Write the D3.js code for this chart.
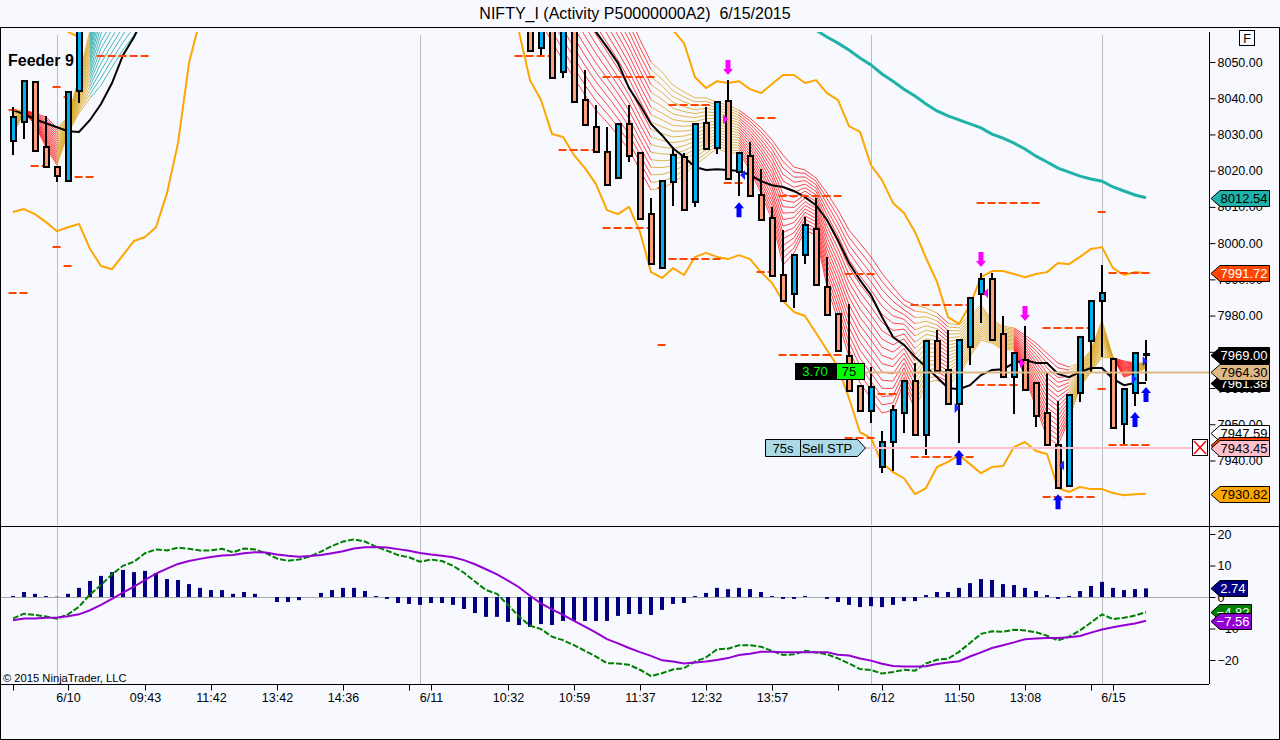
<!DOCTYPE html>
<html lang="en">
<head>
  <meta charset="UTF-8">
  <title>NIFTY_I</title>
  <script src="https://d3js.org/d3.v7.min.js"></script>
  <style>
    body { margin: 0; background: #f8f9ff; }
    svg { display: block; }
    text { font-family: "Liberation Sans", Arial, sans-serif; }
  </style>
</head>
<body>
<svg id="chart" width="1280" height="740"></svg>
<script>
// candles, one entry per visible bar (bars 7-46 traded above the top of the chart)
var candleBars = [0,1,2,3,4,5,6,47,48,49,50,51,52,53,54,55,56,57,58,59,60,61,62,63,64,65,66,67,68,69,70,71,72,73,74,75,76,77,78,79,80,81,82,83,84,85,86,87,88,89,90,91,92,93,94,95,96,97,98,99,100,101,102,103];
var opens = [8028.2,8033.4,8044.5,8026.5,8021,8017.1,8042,8070,8053.8,8068,8047.2,8066,8039.5,8032,8025.1,8018,8032.9,8024.9,8008,7993.1,8016.9,8023.8,8011.3,8033.1,8026.2,8039.2,8019.6,8024,8013.3,8006.9,7991.2,7985.9,7996.7,8003.9,7987.9,7980.4,7968.8,7960.5,7953.6,7938.2,7945.1,7953.1,7961.9,7947,7973,7965,7955.6,7971.3,7985.9,7990.1,7974.9,7963,7967.7,7961.4,7953.1,7944.3,7932.9,7958.6,7973,7984,7968,7950.1,7958.6,7969];
var highs = [8037.6,8044.7,8044.7,8035.1,8021,8041.7,8070,8070,8068,8068,8066,8066,8047.8,8038.1,8032,8032.9,8038.1,8024.9,8012.4,8017.1,8026.5,8024.9,8032.9,8037.6,8038.9,8045,8024.9,8027.9,8020.4,8010,8003.6,7996.7,8007.2,8012.4,7996.1,7980.4,7983.2,7960.5,7965.8,7948.1,7955.3,7961.9,7966.9,7973,7976,7976,7973.2,7984.8,7991.7,7991.7,7979.9,7969.7,7977.1,7961.4,7964.1,7956.4,7958.1,7974.1,7984,7993.9,7968,7959.7,7969.7,7973.2];
var lows = [8024.3,8028.7,8025.4,8021,8016.9,8017.1,8038.7,8053,8051.9,8045.6,8045.6,8038.9,8032.6,8025.1,8016,8018,8022.4,8006.6,7994.2,7993.1,8010.2,8009.1,8010,8026,8024.6,8017.7,8013,8013,8006.4,7990.9,7984,7982.1,7994.2,7988.4,7980.1,7970.2,7959.2,7953.6,7950.3,7936.5,7937.1,7947.6,7947,7941.5,7964.7,7955.6,7944.8,7966.3,7977.9,7973.2,7963,7952.8,7959.4,7949.2,7944.3,7932.4,7932.9,7956.1,7964.4,7968.5,7949,7944.5,7955,7961.9];
var closes = [8034.8,8044.7,8025.4,8021,8018.5,8041.7,8070,8053,8068,8045.6,8066,8038.9,8032.6,8025.1,8016,8032.9,8024,8006.6,7994.2,8017.1,8024.3,8009.1,8032.9,8026,8038.9,8017.7,8024.9,8013,8006.4,7990.9,7984,7996.7,8005,7988.4,7980.1,7970.2,7959.2,7953.6,7960.3,7945.1,7953.9,7961.9,7947,7973,7964.7,7955.6,7973.2,7984.8,7990.1,7973.2,7963,7969.7,7959.4,7952.3,7944.3,7932.4,7958.1,7974.1,7984,7986.2,7949,7959.7,7969.7,7969.4];

// orange envelope, two stretches each [first bar, values]
var bandLowLeft = [8008.6,8009.4,8008,8005.8,8003.3,8004.4,8005.3,7998.4,7993.7,7992.8,7996.7,8000.6,8001.7,8004.4,8013.8,8027.6,8049.7,8061.6];
var bandLowRight = [8058.3,8045,8039.5,8030.1,8029.3,8024.3,8020.7,8016.3,8009.1,8008,8010,8003.1,7992,7990.4,7993.1,7991.2,7996.2,7997.3,7996.2,7995.6,7996.7,7995.6,7992,7989,7984,7981,7979.9,7975.2,7970.5,7965.8,7957.2,7947.8,7946.2,7939.3,7936.8,7935.1,7930.7,7932.4,7938.2,7939.6,7941.5,7939,7936.5,7938.2,7938.5,7943.7,7945.1,7942.6,7941.8,7932.4,7931.3,7932.7,7932.1,7932.1,7931,7930.4,7930.7,7930.82];
var bandHighLeft = [8061.6,8058.3,8056.9,8061.6];
var bandHighRight = [8058.8,8055.2,8045.8,8042.8,8044.7,8044.2,8044.7,8042.5,8041.4,8043.9,8046.4,8046.4,8044.2,8045,8041.4,8039.5,8032.3,8030.7,8021.5,8017.4,8011.1,8008.3,8003.1,7995.9,7989.3,7979.6,7977.7,7982.9,7990.6,7992.3,7992.3,7991.5,7990.6,7991.5,7992,7994.5,7994.2,7996.2,7998.4,7998.9,7993.1,7991.2,7992,7991.72];

var blackLeft = [8036.7,8035.6,8034.2,8033.1,8032,8030.9,8030.7,8034,8038.4,8044.2,8051.9,8056.9,8063];
var blackRight = [8064.3,8058.3,8054.1,8049.7,8042.8,8038.1,8032.9,8029.8,8026.2,8023.8,8021,8020.2,8020.4,8020.2,8019.9,8018.8,8017.1,8016,8015.5,8014.4,8012.7,8010.5,8006.4,8000.8,7994.5,7989.8,7985.7,7979.6,7974.1,7971.9,7968.6,7965.8,7963,7960,7959.7,7960.8,7963.6,7965,7965.2,7966.9,7967.7,7966.9,7966.9,7963.9,7963,7964.4,7965.5,7965.5,7962.5,7960.8,7961.4,7961.38];
var tealRight = [8058.8,8056.9,8055.2,8053.3,8051.1,8049.2,8046.7,8044.7,8042.5,8040.6,8038.4,8036.5,8035.1,8034,8032.9,8031.8,8030.1,8029,8027.6,8026,8024,8022.4,8020.7,8019.6,8018.5,8017.7,8017.1,8015.5,8014.4,8013.3,8012.54];

// outer edges of the moving average ribbon
var ribbonTopLeft = [8036.7,8036.7,8035.9,8034.8,8031.8,8034.8,8045.8,8058.8,8078.1,8083.7,8089.2,8094.7,8100.2];
var ribbonBotLeft = [8029.8,8036.2,8032.6,8026.5,8021.5,8030.4,8035.9,8040,8043.6,8048.6,8053.3,8057.4,8063];
var ribbonTopRight = [8117.3,8111.3,8105.2,8099.1,8093,8087,8080.9,8074.8,8068.8,8062.7,8056.1,8050,8047.2,8043.6,8041.7,8040.1,8040.1,8038.9,8038.1,8036.7,8034.5,8031.8,8028.5,8024.3,8021,8020.2,8018,8013.8,8009.1,8003.6,8000,7996.2,7991.7,7987.9,7984.3,7982.9,7982.1,7980.7,7977.9,7977.4,7980.1,7982.9,7978.8,7977.1,7976.6,7974.6,7972.4,7969.6,7966.9,7965.8,7966.9,7970.5,7978.8,7968.3,7967.5,7966.9,7966.9];
var ribbonBotRight = [8065.7,8061,8055.5,8050.5,8045.6,8040.9,8036.7,8033.4,8029.8,8025.7,8020.2,8014.7,8015.2,8016.6,8018.8,8021.6,8023.8,8026.2,8024.9,8024.9,8020.2,8013.8,8006.4,7994,7997.3,8003.6,8002.2,7987.9,7978.8,7968.6,7961.4,7957.2,7953.1,7953.9,7961.6,7953.9,7961.4,7962.2,7960.8,7963.6,7968.6,7973.2,7972.4,7970.5,7970.5,7963,7954.7,7946.5,7944.3,7951.2,7960.3,7964.4,7968.5,7968.3,7963,7964.1,7965.5];
var ribbonFromBars = [0,1,4,7,47,58,66,82,84,85,91,96,100,102];
var ribbonToBars = [1,4,7,12,58,66,82,84,85,91,96,100,102,103];
var ribbonStates = ['rise','fall','rise','strong','fall','rise','fall','rise','fall','rise','fall','rise','fall','rise'];

// dashed pivot levels
var pivotFrom = [-0.4,-0.4,3.6,4.6,1.6,5.6,7.6,3.6,4.6,45.6,53.6,59.6,49.6,53.6,59.6,58.6,58.6,67.6,64.6,69.6,67.6,75.6,81.6,69.6,78.6,75.6,81.6,87.6,87.6,93.6,93.6,99.6,99.6,98.6,98.6];
var pivotTo = [1.45,0.45,4.45,5.4,3.3,7.45,12.45,4.45,5.45,49.45,58.55,63.55,53.4,58.4,64.45,59.45,59.45,69.45,66.55,75.45,69.45,78.45,87.45,75.45,80.65,78.45,87.45,91.4,93.45,98.45,98.45,103.45,103.45,99.45,99.45];
var pivotPrice = [7986.2,8036.7,8043.1,8040.3,8021.3,8018.2,8051.6,7998.9,7993.7,8051.6,8045.8,8038.1,8025.7,8004.2,7995.6,7971.9,8015.2,8034.5,8016.6,8013,7992,7991.5,7982.9,7969.1,7958.3,7946.2,7941,7960.8,8011.1,7976.6,7929.9,7991.7,7944.3,7959.7,8008.6];

// signal arrows, tip on the price
var downBars = [65,88,92];
var downPrices = [8046.4,7993.4,7978.5];
var upBars = [66,86,95,102,103];
var upPrices = [8011.3,7942.9,7930.7,7953.4,7960.3];
var flagBars = [64.55,88.64,91.55,66.55,85.6,95.55,101.7,102.7];
var flagPrices = [8034.2,7986.2,7966.9,8018.8,7954.5,7938.7,7962.5,7967.4];
var flagDirs = [1,-1,1,-1,1,-1,1,1];
var flagKinds = ['short','short','short','long','long','long','long','long'];

// MACD panel, every bar
var macdHist = [0.3,1.6,1,0.3,0.1,1,2.9,5.1,6.7,7.9,8.6,7.9,8.3,7.6,5.7,5.4,4.1,2.9,2.2,2.2,1,1.6,1,0,-1.6,-1.6,-1,0,1.3,2.2,2.9,2.9,1.9,0.3,-0.6,-1.9,-2.2,-2.5,-1.9,-1.9,-2.5,-3.8,-5.1,-6.3,-6.3,-7.9,-8.9,-9.5,-8.6,-8.9,-7.6,-7.6,-7.6,-7.6,-7.6,-6,-5.4,-5.4,-5.7,-4.1,-2.2,-1.9,0.3,1.3,2.9,2.5,2.9,2.5,1.6,0.3,-0.6,-0.6,0.3,0,-0.6,-1.6,-2.5,-3.2,-2.9,-3.2,-2.5,-1.3,-1.3,0.6,1.6,1.6,2.9,4.4,5.7,5.4,4.1,3.8,2.9,1.9,0.6,-0.6,0.3,1.9,3.5,4.8,2.9,2.2,2.5,2.74];
var macdAvg = [-7.4,-6.8,-6.8,-6.6,-6.5,-6.1,-5.5,-4.2,-2.5,-0.6,1.4,3.3,5.4,7.4,9,10.5,11.4,12.1,12.7,13.2,13.3,13.9,14.2,14.1,13.5,13.1,12.8,13,13.3,13.9,14.5,15.4,15.8,15.9,15.7,15.2,14.7,14,13.5,13.1,12.6,11.7,10.4,8.8,7.2,5.2,3.1,0.4,-2,-3.9,-5.7,-7.6,-9.4,-11.3,-13.4,-14.7,-16.2,-17.5,-18.7,-20.1,-20.5,-21.1,-20.8,-20.5,-20,-19.4,-18.4,-18,-17.4,-17.4,-17.5,-17.5,-17.5,-17.5,-17.5,-18.3,-18.6,-19.5,-20.2,-21.2,-21.9,-22.1,-22.1,-22,-21.3,-20.8,-20.4,-18.9,-17.6,-16.2,-15.3,-14.4,-13.4,-13.2,-13,-13,-12.8,-12.4,-11.3,-10.3,-9.6,-9,-8.4,-7.56];
var macdLine = [-6.8,-5.3,-5.7,-6.2,-6.9,-5.5,-3.1,0.8,3.8,7.2,9.9,11.2,13.9,15.1,14.8,15.7,15.3,14.8,14.8,15.3,14.2,15.4,15.1,13.9,12.2,11.5,11.9,12.9,14.4,16.2,17.6,18.3,17.6,16,14.7,13.3,12.6,11.2,11.9,11.4,9.9,7.7,4.9,2.2,1,-2.5,-6.2,-9.1,-10.2,-12.6,-13.7,-15.3,-17.1,-18.9,-21,-21.1,-21.5,-23.1,-25.1,-24.2,-23,-22.6,-20.5,-19.2,-16.6,-16.4,-15.3,-15.3,-15.8,-17.1,-18.4,-18.2,-17.1,-17.6,-18.2,-19.5,-21.1,-22.9,-23.2,-24.3,-23.8,-23.1,-23.4,-21.1,-19.9,-19.6,-17.4,-14.6,-11.7,-10.9,-11,-10.4,-10.6,-11.2,-12.3,-13.8,-12.6,-10.6,-8.1,-5.5,-7,-6.6,-5.9,-4.82];

// axes
var priceTicks = [8050,8040,8030,8020,8010,8000,7990,7980,7970,7960,7950,7940];
var macdTicks = [20,10,0,-10,-20];
var timeTickBars = [0,5,12,18,24,30,36,38,45,51,57,63,69,75,79,86,92,98,100];
var timeTickLabels = ['','6/10','09:43','11:42','13:42','14:36','','6/11','10:32','10:59','11:37','12:32','13:57','','6/12','11:50','13:08','','6/15'];
var sessionBars = [4,37,78,99];

// marker tags on the right, in drawing order
var tagPrices = [8012.54,7991.72,7947.59,7944.3,7943.45,7930.82,7961.38,7969.00,7964.30];
var tagKinds = ['teal','pivot','plain','pivot','stop','band','ema','last','entry'];
var macdTagValues = [2.74,-4.82,-7.56];
var macdTagKinds = ['hist','line','avg'];

var lastPrice = 7964.30, stopPrice = 7943.45;

var tagFill = {teal:'#20b2aa',pivot:'#ff4500',plain:'#ffffff',stop:'#ffc0cb',band:'#ffa500',ema:'#000',last:'#000',entry:'#deb887',hist:'#000080',line:'#008000',avg:'#9400d3'};
var tagText = {teal:'#000',pivot:'#fff',plain:'#000',stop:'#000',band:'#000',ema:'#fff',last:'#fff',entry:'#000',hist:'#fff',line:'#fff',avg:'#fff'};
var ribbonColor = {rise:'#daa520',fall:'#ff1a1a',strong:'#20a8a8'};

var svg = d3.select('#chart');
var x = d3.scaleLinear().domain([0,103]).range([13,1146]);
var y = d3.scaleLinear().domain([7940,8050]).range([460.5,62]);
var yM = d3.scaleLinear().domain([-20,20]).range([660,534]);

// paper and frame
svg.append('rect').attr('x',0.5).attr('y',27.5).attr('width',1279).attr('height',712)
  .attr('fill','#f8f9ff').attr('stroke','#000');
svg.append('text').attr('x',635).attr('y',19).attr('text-anchor','middle').attr('font-size',16)
  .attr('fill','#000').attr('xml:space','preserve').text('NIFTY_I (Activity P50000000A2)  6/15/2015');

svg.append('defs').append('clipPath').attr('id','plot').append('rect')
  .attr('x',1).attr('y',32).attr('width',1208).attr('height',493);
var plot = svg.append('g').attr('clip-path','url(#plot)');

// session grid
sessionBars.forEach(function(b) {
  var gx = Math.round(x(b)) + 0.5;
  svg.insert('line','g').attr('x1',gx).attr('x2',gx).attr('y1',35).attr('y2',525).attr('stroke','#bdbdbd');
  svg.insert('line','g').attr('x1',gx).attr('x2',gx).attr('y1',527).attr('y2',684).attr('stroke','#bdbdbd');
});

// turn a stretch of values starting at a bar into [bar,value] pairs
function stretch(first, vals) { return vals.map(function(v,i) { return [first+i, v]; }); }
var priceLine = d3.line().x(function(d) { return x(d[0]); }).y(function(d) { return y(d[1]); });

// ribbon: top and bottom edges are the read series, the strands in between
// only shade the band between them
var ribbonTop = {}, ribbonBot = {};
ribbonTopLeft.forEach(function(v,i) { ribbonTop[i] = v; ribbonBot[i] = ribbonBotLeft[i]; });
ribbonTopRight.forEach(function(v,i) { ribbonTop[47+i] = v; ribbonBot[47+i] = ribbonBotRight[i]; });
var strands = 18;
ribbonStates.forEach(function(st,r) {
  var bars = d3.range(ribbonFromBars[r], ribbonToBars[r]+1);
  d3.range(strands).forEach(function(k) {
    var f = k/(strands-1);
    var pts = bars.map(function(b) { return [b, ribbonTop[b] + (ribbonBot[b]-ribbonTop[b])*f]; });
    plot.append('path').attr('d',priceLine(pts)).attr('fill','none')
      .attr('stroke',ribbonColor[st]).attr('stroke-width',1).attr('stroke-opacity',0.8);
  });
});

// orange envelope, moving averages
[[0,bandLowLeft],[46,bandLowRight],[4,bandHighLeft],[60,bandHighRight]].forEach(function(s) {
  plot.append('path').attr('d',priceLine(stretch(s[0],s[1]))).attr('fill','none')
    .attr('stroke','#ffa500').attr('stroke-width',2).attr('stroke-linejoin','round');
});
plot.append('path').attr('d',priceLine(stretch(73,tealRight))).attr('fill','none')
  .attr('stroke','#20b2aa').attr('stroke-width',3);
[[0,blackLeft],[52,blackRight]].forEach(function(s) {
  plot.append('path').attr('d',priceLine(stretch(s[0],s[1]))).attr('fill','none')
    .attr('stroke','#000').attr('stroke-width',2);
});

// pivots
plot.selectAll('line.pivot').data(pivotPrice).enter().append('line').attr('class','pivot')
  .attr('x1',function(d,i) { return x(pivotFrom[i]); })
  .attr('x2',function(d,i) { return x(pivotTo[i]); })
  .attr('y1',function(d) { return Math.round(y(d)); })
  .attr('y2',function(d) { return Math.round(y(d)); })
  .attr('stroke','#ff4500').attr('stroke-width',2).attr('stroke-dasharray','8,3');

// candles
var candles = plot.selectAll('g.candle').data(candleBars).enter().append('g').attr('class','candle');
candles.append('line')
  .attr('x1',function(b) { return x(b); }).attr('x2',function(b) { return x(b); })
  .attr('y1',function(b,i) { return Math.round(y(highs[i])); }).attr('y2',function(b,i) { return Math.round(y(lows[i])); })
  .attr('stroke','#000').attr('stroke-width',2);
candles.append('rect')
  .attr('x',function(b) { return x(b)-2; }).attr('width',5)
  .attr('y',function(b,i) { return Math.round(y(Math.max(opens[i],closes[i]))); })
  .attr('height',function(b,i) {
    return Math.max(1, Math.round(y(Math.min(opens[i],closes[i]))) - Math.round(y(Math.max(opens[i],closes[i]))));
  })
  .attr('fill',function(b,i) { return closes[i]>=opens[i] ? '#00b0f0' : '#ffa07a'; })
  .attr('stroke','#000').attr('stroke-width',2);

// arrows
function arrowPath(cx, tip, dir) {
  // dir 1 points down, -1 points up
  var p = [[0,0],[5,-6],[2.5,-6],[2.5,-15],[-2.5,-15],[-2.5,-6],[-5,-6]];
  return 'M' + p.map(function(q) { return (cx+q[0])+','+(tip+q[1]*dir); }).join('L') + 'Z';
}
downBars.forEach(function(b,i) {
  plot.append('path').attr('d',arrowPath(x(b),y(downPrices[i]),1)).attr('fill','#ff00ff');
});
upBars.forEach(function(b,i) {
  plot.append('path').attr('d',arrowPath(x(b),y(upPrices[i]),-1)).attr('fill','#0000ff');
});
flagBars.forEach(function(b,i) {
  var bx = x(b), by = y(flagPrices[i]), d = flagDirs[i];
  plot.append('path').attr('d','M'+bx+','+(by-5)+'L'+(bx+5*d)+','+by+'L'+bx+','+(by+5)+'Z')
    .attr('fill',flagKinds[i]=='short'?'#ff00ff':'#2020ff');
});

// order lines
var orderLeft = 865;
plot.append('line').attr('x1',orderLeft).attr('x2',1209).attr('y1',y(lastPrice)).attr('y2',y(lastPrice))
  .attr('stroke','#deb887').attr('stroke-width',2);
plot.append('line').attr('x1',orderLeft).attr('x2',1192).attr('y1',y(stopPrice)).attr('y2',y(stopPrice))
  .attr('stroke','#ffc0cb').attr('stroke-width',2);

// position box
var posY = Math.round(y(lastPrice)) - 8;
svg.append('rect').attr('x',795.5).attr('y',posY-0.5).attr('width',41).attr('height',16).attr('fill','#000').attr('stroke','#000');
svg.append('rect').attr('x',836.5).attr('y',posY-0.5).attr('width',28).attr('height',16).attr('fill','#00ff00').attr('stroke','#000');
svg.append('text').attr('x',815).attr('y',posY+12).attr('text-anchor','middle').attr('font-size',13).attr('fill','#00ff00').text('3.70');
svg.append('text').attr('x',849).attr('y',posY+12).attr('text-anchor','middle').attr('font-size',13).attr('fill','#000').text('75');

// stop order box
var stopY = Math.round(y(stopPrice));
svg.append('path').attr('d','M765.5,'+(stopY-8.5)+'H857.5L865.5,'+stopY+'L857.5,'+(stopY+8.5)+'H765.5Z')
  .attr('fill','#add8e6').attr('stroke','#000');
svg.append('line').attr('x1',800.5).attr('x2',800.5).attr('y1',stopY-8).attr('y2',stopY+8).attr('stroke','#000');
svg.append('text').attr('x',783).attr('y',stopY+5).attr('text-anchor','middle').attr('font-size',13).text('75s');
svg.append('text').attr('x',827).attr('y',stopY+5).attr('text-anchor','middle').attr('font-size',13).text('Sell STP');

// cancel box
svg.append('rect').attr('x',1192.5).attr('y',stopY-8.5).attr('width',15).attr('height',16).attr('fill','#fff').attr('stroke','#000');
svg.append('path').attr('d','M1194,'+(stopY-7)+'L1206,'+(stopY+6)+'M1206,'+(stopY-7)+'L1194,'+(stopY+6))
  .attr('stroke','#ff0000').attr('stroke-width',1.5).attr('fill','none');

// macd
svg.append('line').attr('x1',1).attr('x2',1209).attr('y1',yM(0)+0.5).attr('y2',yM(0)+0.5).attr('stroke','#a9a9a9');
svg.selectAll('rect.hist').data(macdHist).enter().append('rect').attr('class','hist')
  .attr('x',function(d,i) { return x(i)-2; }).attr('width',4)
  .attr('y',function(d) { return Math.min(yM(d),yM(0)); })
  .attr('height',function(d) { return Math.abs(yM(d)-yM(0)); })
  .attr('fill','#000080');
var macdPath = d3.line().x(function(d,i) { return x(i); }).y(function(d) { return yM(d); });
svg.append('path').attr('d',macdPath(macdLine)).attr('fill','none').attr('stroke','#008000')
  .attr('stroke-width',2).attr('stroke-dasharray','6,2');
svg.append('path').attr('d',macdPath(macdAvg)).attr('fill','none').attr('stroke','#9400d3').attr('stroke-width',2);

svg.append('text').attr('x',3).attr('y',682).attr('font-size',11.2).attr('fill','#000').text('\u00a9 2015 NinjaTrader, LLC');
svg.append('text').attr('x',8).attr('y',66).attr('font-size',16).attr('font-weight','bold').attr('fill','#000').text('Feeder 9');

// axes
svg.append('line').attr('x1',1209.5).attr('x2',1209.5).attr('y1',32).attr('y2',684).attr('stroke','#000');
svg.append('line').attr('x1',1).attr('x2',1279).attr('y1',526.5).attr('y2',526.5).attr('stroke','#000');
svg.append('line').attr('x1',1).attr('x2',1209).attr('y1',684.5).attr('y2',684.5).attr('stroke','#000');

var priceAxis = d3.axisRight(y).tickValues(priceTicks).tickFormat(d3.format('.2f')).tickSize(6).tickPadding(2);
var macdAxis = d3.axisRight(yM).tickValues(macdTicks).tickFormat(d3.format('d')).tickSize(6).tickPadding(2);
var timeAxis = d3.axisBottom(x).tickValues(timeTickBars)
  .tickFormat(function(d,i) { return timeTickLabels[i]; }).tickSize(6).tickPadding(3);
[svg.append('g').attr('transform','translate(1209.5,0)').call(priceAxis),
 svg.append('g').attr('transform','translate(1209.5,0)').call(macdAxis),
 svg.append('g').attr('transform','translate(0,684.5)').call(timeAxis)].forEach(function(g) {
  g.select('.domain').remove();
  g.selectAll('text').attr('font-size',12.5).attr('fill','#000').style('font-family','"Liberation Sans", Arial, sans-serif');
  g.selectAll('line').attr('stroke','#000');
});

// F box
svg.append('rect').attr('x',1239.5).attr('y',30.5).attr('width',15).attr('height',15).attr('fill','#f8f9ff').attr('stroke','#000');
svg.append('text').attr('x',1247).attr('y',43).attr('text-anchor','middle').attr('font-size',12.5).attr('fill','#000').text('F');

// value tags
function tag(scale, v, kind, right) {
  var ty = Math.round(scale(v));
  svg.append('path').attr('d','M1211,'+(ty+0.5)+'L1220,'+(ty-7.5)+'H'+right+'V'+(ty+8.5)+'H1220Z')
    .attr('fill',tagFill[kind]).attr('stroke','#000');
  svg.append('text').attr('x',right-2).attr('y',ty+5).attr('text-anchor','end').attr('font-size',13)
    .attr('fill',tagText[kind]).text(d3.format('.2f')(v));
}
tagPrices.forEach(function(v,i) { tag(y,v,tagKinds[i],1269.5); });
macdTagValues.forEach(function(v,i) { tag(yM,v,macdTagKinds[i],i==0?1247.5:1251.5); });
</script>
</body>
</html>
